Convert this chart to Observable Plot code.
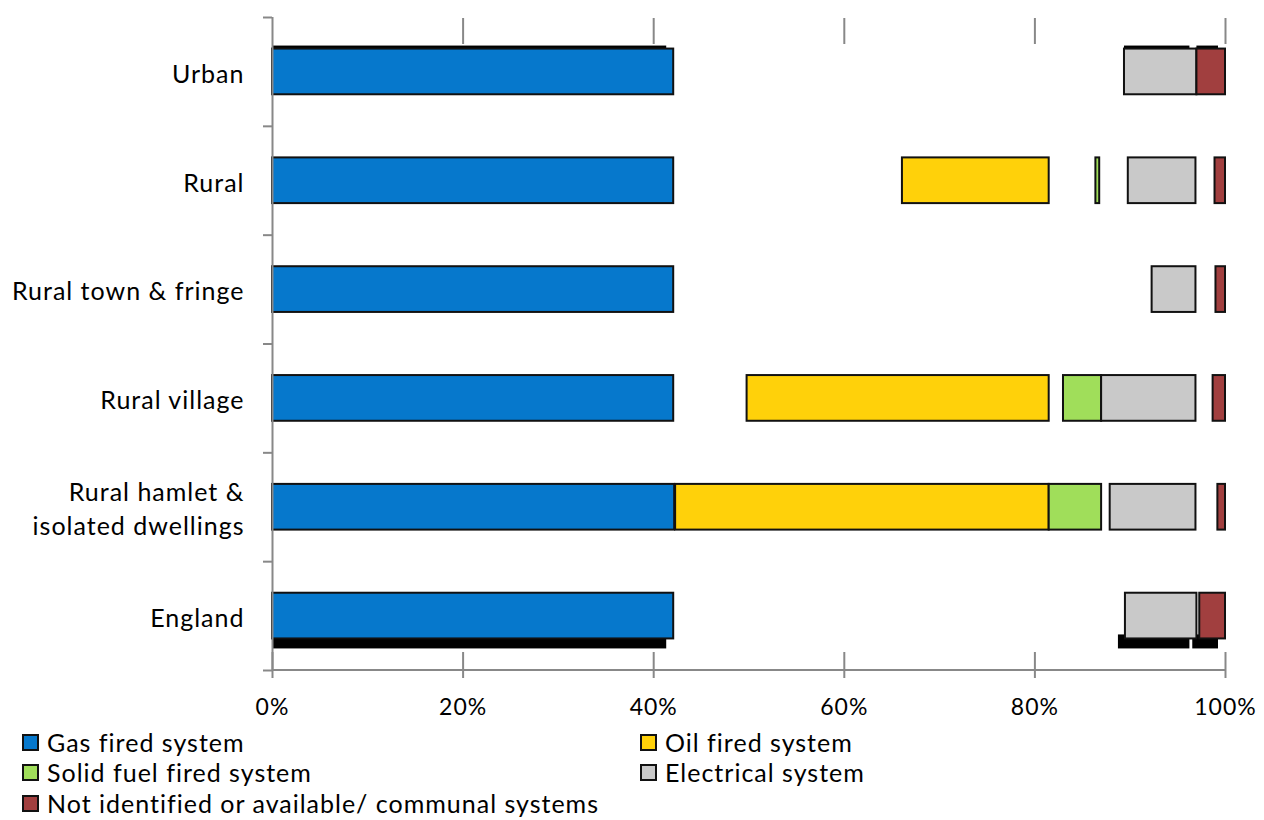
<!DOCTYPE html>
<html>
<head>
<meta charset="utf-8">
<script src="https://cdn.jsdelivr.net/npm/d3@7"></script>
<script src="https://cdn.jsdelivr.net/npm/@observablehq/plot@0.6"></script>
<style>
  body { margin: 0; background: #fff; font-family: Lato, "Open Sans", sans-serif; }
  #wrap { position: relative; width: 1264px; height: 820px; }
  .lg { position: absolute; display: flex; align-items: center; font-size: 25px; letter-spacing: 1px; color: #000; white-space: nowrap; }
  .sw { width: 13px; height: 13px; border: 2px solid #111; margin-right: 8px; }
</style>
</head>
<body>
<div id="wrap"></div>
<script>
// Categories (top to bottom)
const categories = ["Urban", "Rural", "Rural town & fringe", "Rural village", "Rural hamlet &\nisolated dwellings", "England"];

// Visible segment extents (% of dwellings) per series, per category: [start, end] or null
const gasFired       = [[0, 42.1], [0, 42.1], [0, 42.1], [0, 42.1], [0, 42.2], [0, 42.1]];
const oilFired       = [null, [66.1, 81.5], null, [49.8, 81.5], [42.3, 81.5], null];
const solidFuel      = [null, [86.4, 86.8], null, [83.0, 87.0], [81.5, 87.0], null];
const electrical     = [[89.4, 97.0], [89.8, 96.9], [92.3, 96.9], [87.0, 96.9], [87.9, 96.9], [89.5, 97.0]];
const notIdentified  = [[97.0, 100], [98.9, 100], [99.0, 100], [98.7, 100], [99.2, 100], [97.3, 100]];

const seriesNames = ["Gas fired system", "Oil fired system", "Solid fuel fired system", "Electrical system", "Not identified or available/ communal systems"];
const seriesValues = [gasFired, oilFired, solidFuel, electrical, notIdentified];
const seriesColors = ["#0678CC", "#FFD10A", "#A0DE5A", "#C9C9C9", "#A13F3F"];
const xTicks = [0, 20, 40, 60, 80, 100];

const rows = [];
seriesValues.forEach((vals, s) => {
  vals.forEach((v, i) => {
    if (v) rows.push({series: seriesNames[s], cat: categories[i], x1: v[0], x2: v[1]});
  });
});

const W = 1264, H = 725;
const mTop = 17, mBottom = H - 670, mLeft = 272, mRight = W - 1225;
const plotH = H - mTop - mBottom;
const step = plotH / categories.length;
const padIn = 0.58;
const bandH = step * (1 - padIn);
const axisGrey = "#888";
const font = "Lato, 'Open Sans', sans-serif";

const chart = Plot.plot({
  width: W,
  height: H,
  marginTop: mTop,
  marginBottom: mBottom,
  marginLeft: mLeft,
  marginRight: mRight,
  style: {fontFamily: font, background: "#fff", color: "#000", letterSpacing: "1px"},
  x: {domain: [0, 100], label: null},
  y: {domain: categories, paddingInner: padIn, paddingOuter: padIn / 2, round: false, label: null},
  color: {domain: seriesNames, range: seriesColors},
  marks: [
    // rendering shadows seen in the reference (England bottom, Urban top)
    Plot.rectX(rows.filter(d => d.cat === "England"), {x1: "x1", x2: "x2", y: "cat", fill: "#000", dx: -7, dy: 10, insetTop: bandH - 14, clip: true}),
    Plot.rectX(rows.filter(d => d.cat === "Urban"), {x1: "x1", x2: "x2", y: "cat", fill: "#000", dy: -3, insetBottom: bandH - 3, insetRight: 7}),
    Plot.rectX(rows, {x1: "x1", x2: "x2", y: "cat", fill: "series", stroke: "#111", strokeWidth: 2}),
    // axis lines
    Plot.ruleX([0], {stroke: axisGrey, strokeWidth: 2}),
    Plot.rect([0], {x1: 0, x2: 100, fill: axisGrey, insetTop: plotH - 1, insetBottom: -1}),
    // y tick marks between categories
    Plot.axisY({tickSize: 9, tickFormat: () => "", dy: -step / 2, stroke: axisGrey, strokeWidth: 2, label: null}),
    Plot.axisY({ticks: ["England"], tickSize: 9, tickFormat: () => "", dy: step / 2, stroke: axisGrey, strokeWidth: 2, label: null}),
    // y labels
    Plot.axisY({tickSize: 0, tickPadding: 28, fontSize: 25, fill: "#000", lineHeight: 1.35, label: null}),
    // x axis: crossing ticks at bottom, labels
    Plot.axisX({ticks: xTicks, tickSize: 26, dy: -18, tickPadding: 20, tickFormat: d => d + "%", fontSize: 23, fill: "#000", stroke: axisGrey, strokeWidth: 2, label: null}),
    // top ticks
    Plot.axisX({anchor: "top", ticks: xTicks.slice(1), tickSize: 26, dy: 26, tickFormat: () => "", stroke: axisGrey, strokeWidth: 2, label: null})
  ]
});

const wrap = document.getElementById("wrap");
wrap.appendChild(chart);

// Legend
const legendPos = [[22, 727], [640, 727], [22, 757], [640, 757], [22, 788]];
seriesNames.forEach((name, i) => {
  const d = document.createElement("div");
  d.className = "lg";
  d.style.left = legendPos[i][0] + "px";
  d.style.top = legendPos[i][1] + "px";
  const sw = document.createElement("span");
  sw.className = "sw";
  sw.style.background = seriesColors[i];
  d.appendChild(sw);
  d.appendChild(document.createTextNode(name));
  wrap.appendChild(d);
});
</script>
</body>
</html>
